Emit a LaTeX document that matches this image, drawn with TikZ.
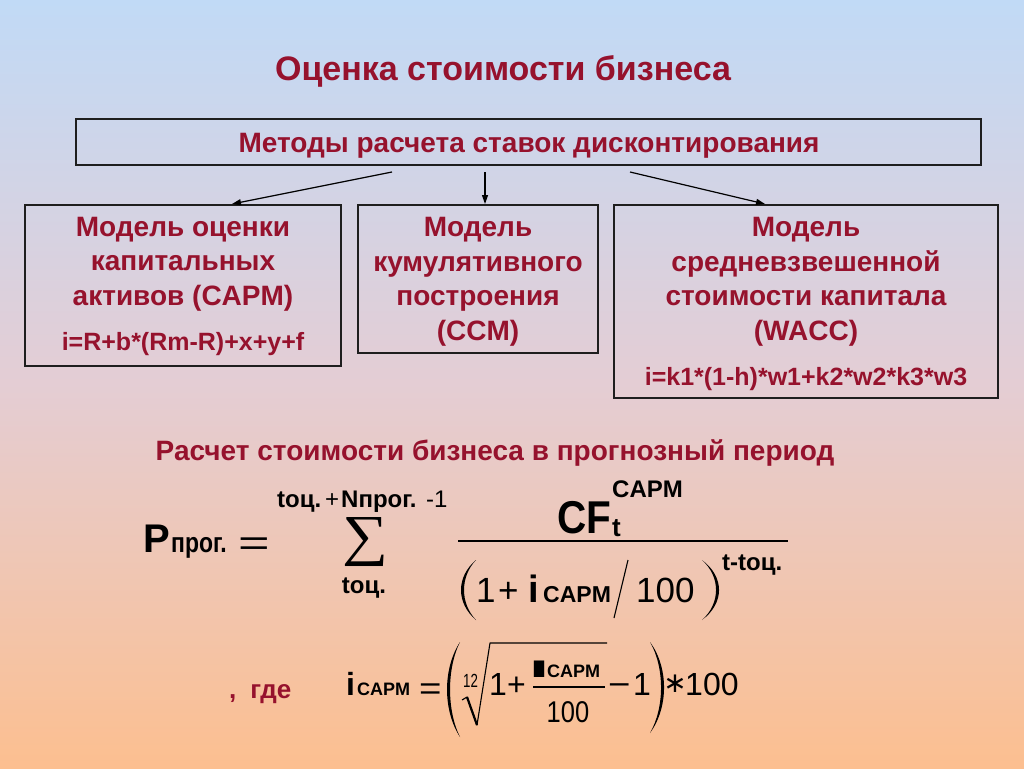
\documentclass[tikz,border=0pt]{standalone}
\usepackage{fontspec}
\usepackage{graphicx}
\setmainfont{Liberation Sans}
\newfontfamily\serifsym{Liberation Serif}
\newfontfamily\dejavu{DejaVu Sans}
\usetikzlibrary{arrows.meta}
\definecolor{dred}{RGB}{150,18,45}
\definecolor{boxc}{RGB}{30,30,30}
\definecolor{bgtop}{RGB}{193,218,246}
\definecolor{bgmid}{RGB}{228,205,212}
\definecolor{bgbot}{RGB}{252,191,144}
\newcommand\fs[1]{\fontsize{#1}{#1}\selectfont}
\newcommand\cs[2]{\scalebox{#1}[1]{#2}}
% crescent parenthesis: ends x, top y, bottom y, outer ctrl x, inner ctrl x
\newcommand\crescent[5]{%
  \fill (#1,#2) .. controls (#4,{#2+0.28*(#3-#2)}) and (#4,{#3-0.28*(#3-#2)}) .. (#1,#3)
   .. controls (#5,{#3-0.28*(#3-#2)}) and (#5,{#2+0.28*(#3-#2)}) .. (#1,#2) -- cycle;}
\begin{document}
\begin{tikzpicture}[x=1pt,y=-1pt,
  txt/.style={inner sep=0pt, text=dred, font=\bfseries\fontsize{28}{34.5}\selectfont},
  bx/.style={draw=boxc, line width=2pt, inner sep=0pt},
  arr/.style={-{Triangle[length=9pt,width=6pt]}, line width=1.2pt, black},
  fm/.style={inner sep=0pt, anchor=base west, text=black},
]
\useasboundingbox (0,0) rectangle (1024,768);
\shade[top color=bgtop, bottom color=bgbot, middle color=bgmid] (0,0) rectangle (1024,768);

% title
\node[txt, anchor=base] (ttl) at (503,81) {\fontsize{34}{40}\selectfont Оценка стоимости бизнеса};

% header box
\node[bx, minimum width=905, minimum height=46] (hdr) at (528.5,142) {};
\node[txt, anchor=base] (hdrt) at (529,152) {Методы расчета ставок дисконтирования};

% model boxes
\node[bx, minimum width=316, minimum height=161] (b2) at (183,285.5) {};
\node[bx, minimum width=240, minimum height=148] (b3) at (478,279) {};
\node[bx, minimum width=384, minimum height=193] (b4) at (806,301.5) {};

\node[txt, anchor=base, align=center] (b2t) at (183,350)
  {Модель оценки\\капитальных\\активов (CAPM)\\[10.5pt]{\fontsize{25}{30}\selectfont i=R+b*(Rm-R)+x+y+f}};
\node[txt, anchor=base, align=center] (b3t) at (478,340)
  {Модель\\кумулятивного\\построения\\(CCM)};
\node[txt, anchor=base, align=center] (b4t) at (806,385)
  {Модель\\средневзвешенной\\стоимости капитала\\(WACC)\\[10.5pt]{\fontsize{25}{30}\selectfont i=k1*(1-h)*w1+k2*w2*k3*w3}};

% arrows
\coordinate (s1) at ([xshift=-136.5pt,yshift=-6pt]hdr.south);
\coordinate (s2) at ([xshift=-43.5pt,yshift=-6pt]hdr.south);
\coordinate (s3) at ([xshift=101.5pt,yshift=-6pt]hdr.south);
\draw[arr] (s1) -- ([xshift=49pt]b2.north);
\draw[arr] (s2) -- ([xshift=7pt]b3.north);
\draw[arr] (s3) -- ([xshift=-41pt]b4.north);

% subtitle
\node[txt, anchor=base] (sub) at (495,460) {Расчет стоимости бизнеса в прогнозный период};

% ---- main formula ----
\node[fm] (fP) at (143,552) {\bfseries\fs{40}P};
\node[fm] (fPs) at (171,552) {\bfseries\fs{28}\cs{0.82}{прог.}};
\node[fm] (fEq) at (238,555) {\fs{36}\cs{1.5}{=}};
\node[inner sep=0pt] (fS) at (365,542) {\resizebox*{46pt}{49pt}{\serifsym ∑}};
\node[fm] (fU1) at (277,507) {\bfseries\fs{24}tоц.};
\node[fm] (fU2) at (325,507) {\fs{24}+};
\node[fm] (fU3) at (341,507) {\bfseries\fs{24}Nпрог.};
\node[fm] (fU4) at (426,507) {\fs{24}-1};
\node[inner sep=0pt, anchor=base, text=black] (fL) at (364,593) {\bfseries\fs{24}tоц.};
\draw[line width=1.5pt] (458,541) -- (788,541);
\node[fm] (fCF) at (557,533) {\bfseries\fs{46}\cs{0.88}{CF}};
\node[fm] (fCt) at (612,536) {\bfseries\fs{26}t};
\node[fm] (fCs) at (612,497) {\bfseries\fs{24}CAPM};
\crescent{476}{560}{620}{456}{460}
\node[fm] (fD1) at (476,602) {\fs{35}1};
\node[fm] (fD2) at (498,602) {\fs{35}+};
\node[fm] (fD3) at (528,602) {\bfseries\fs{38}i};
\node[fm] (fD4) at (543,602) {\bfseries\fs{23}CAPM};
\draw[line width=1.1pt] (614,618) -- (628,560);
\node[fm] (fD5) at (636,602) {\fs{35}100};
\crescent{702}{560}{620}{724.7}{720.7}
\node[fm] (fDe) at (722,570) {\bfseries\fs{24}t-tоц.};

% ---- second formula ----
\node[fm, text=dred] (gde) at (229,698) {\bfseries\fs{26},\hspace{14pt}где};
\node[fm] (gi) at (346,695) {\bfseries\fs{32}i};
\node[fm] (gis) at (357,695) {\bfseries\fs{18}CAPM};
\node[fm] (gEq) at (419,699) {\fs{32}\cs{1.2}{=}};
\crescent{460}{642}{737}{442.7}{446.7}
\node[fm] (g12) at (463,687) {\fs{19}\cs{0.7}{12}};
\draw[line width=1.1pt, line join=round] (462,700) -- (467,697) -- (477,725) -- (490,643) -- (607,643);
\draw[line width=2.2pt] (467,697) -- (477,725);
\node[fm] (g1) at (489,695) {\fs{32}1};
\node[fm] (gp) at (507,695) {\fs{32}+};
\node[fm] (gI) at (529,677) {\bfseries\fs{24}\cs{3}{I}};
\node[fm] (gIs) at (547,677) {\bfseries\fs{18}CAPM};
\draw[line width=1.2pt] (533,687) -- (605,687);
\node[inner sep=0pt, anchor=base, text=black] (g100a) at (568,722) {\fs{30}\cs{0.85}{100}};
\node[fm] (gm) at (608,695) {\fs{32}\cs{1.2}{−}};
\node[fm] (gm1) at (633,695) {\fs{32}1};
\crescent{650}{642}{733}{668.7}{664.7}
\node[inner sep=0pt, text=black] (gast) at (675,684) {\dejavu\fs{28}∗};
\node[fm] (g100b) at (685,695) {\fs{32}100};
\end{tikzpicture}
\end{document}
